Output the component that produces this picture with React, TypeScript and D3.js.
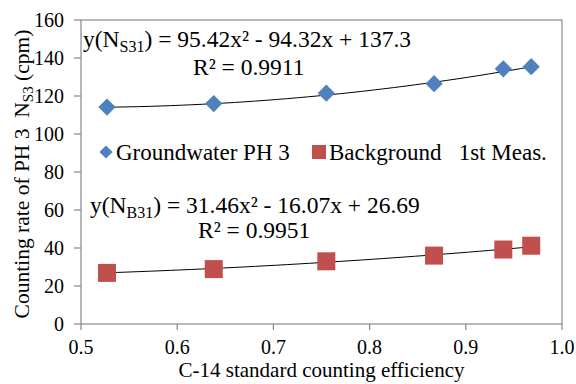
import * as d3 from 'd3';

const efficiency = [0.527, 0.638, 0.755, 0.867, 0.939, 0.968];
const groundwater = [114.2, 116.0, 121.5, 126.5, 134.3, 135.4];
const background = [26.9, 28.9, 33.0, 36.0, 39.2, 41.2];

// trendline coefficients [a, b, c] for a*x^2 + b*x + c, as printed on the chart
const groundwaterFit = [95.42, -94.32, 137.3];
const backgroundFit = [31.46, -16.07, 26.69];

const xTicks = [0.5, 0.6, 0.7, 0.8, 0.9, 1.0];
const yTicks = [0, 20, 40, 60, 80, 100, 120, 140, 160];

const W = 576;
const H = 384;
const margin = { top: 20, right: 14, bottom: 60, left: 81 };
const font = '"Liberation Serif", "Times New Roman", Times, serif';
const blue = '#4F81BD';
const red = '#C0504D';
const axisColor = '#898989';

export default function App() {
  const innerW = W - margin.left - margin.right;
  const innerH = H - margin.top - margin.bottom;

  const x = d3.scaleLinear().domain([0.5, 1.0]).range([0, innerW]);
  const y = d3.scaleLinear().domain([0, 160]).range([innerH, 0]);

  const fitLine = (coef: number[]) => {
    const [x0, x1] = d3.extent(efficiency) as [number, number];
    const pts = d3.range(0, 41).map((i) => {
      const xv = x0 + ((x1 - x0) * i) / 40;
      return [xv, coef[0] * xv * xv + coef[1] * xv + coef[2]] as [number, number];
    });
    return d3
      .line<[number, number]>()
      .x((d) => x(d[0]))
      .y((d) => y(d[1]))(pts) ?? '';
  };

  const diamond = d3.symbol().type(d3.symbolDiamond2).size(190)() ?? '';
  const txt = { fontFamily: font, fill: '#000' };

  return (
    <div style={{ position: 'absolute', left: 0, top: 0 }}>
      <svg width={W} height={H} style={{ display: 'block', background: '#fff', fontFamily: font }}>
        <g transform={`translate(${margin.left},${margin.top})`}>
          {/* plot frame */}
          <rect x={0} y={0} width={innerW} height={innerH} fill="none" stroke={axisColor} strokeWidth={1.2} />

          {/* y axis ticks */}
          {yTicks.map((t) => (
            <g key={'y' + t} transform={`translate(0,${y(t)})`}>
              <line x1={-7} x2={0} stroke={axisColor} strokeWidth={1.2} />
              <text x={-17} dy="0.34em" textAnchor="end" fontSize={20} {...txt}>
                {t}
              </text>
            </g>
          ))}

          {/* x axis ticks */}
          {xTicks.map((t) => (
            <g key={'x' + t} transform={`translate(${x(t)},${innerH})`}>
              <line y1={0} y2={6} stroke={axisColor} strokeWidth={1.2} />
              <text y={30} textAnchor="middle" fontSize={20} {...txt}>
                {t.toFixed(1)}
              </text>
            </g>
          ))}

          {/* trendlines */}
          <path d={fitLine(groundwaterFit)} fill="none" stroke="#000" strokeWidth={1} />
          <path d={fitLine(backgroundFit)} fill="none" stroke="#000" strokeWidth={1} />

          {/* markers */}
          {efficiency.map((e, i) => (
            <path key={'g' + i} d={diamond} transform={`translate(${x(e)},${y(groundwater[i])})`} fill={blue} />
          ))}
          {efficiency.map((e, i) => (
            <rect key={'b' + i} x={x(e) - 9} y={y(background[i]) - 9} width={18} height={18} fill={red} />
          ))}

          {/* equations */}
          <text x={2} y={27} fontSize={23.5} {...txt}>
            y(N<tspan fontSize={16} dy={5}>S31</tspan>
            <tspan dy={-5}>) = 95.42x² - 94.32x + 137.3</tspan>
          </text>
          <text x={112} y={55} fontSize={23.5} {...txt}>
            R² = 0.9911
          </text>
          <text x={9} y={193} fontSize={23.5} {...txt}>
            y(N<tspan fontSize={16} dy={5}>B31</tspan>
            <tspan dy={-5}>) = 31.46x² - 16.07x + 26.69</tspan>
          </text>
          <text x={117} y={218} fontSize={23.5} {...txt}>
            R² = 0.9951
          </text>

          {/* legend */}
          <path d={d3.symbol().type(d3.symbolDiamond2).size(110)() ?? ''} transform="translate(25,132)" fill={blue} />
          <text x={35} y={140} fontSize={23} {...txt}>
            Groundwater PH 3
          </text>
          <rect x={231} y={125} width={14} height={14} fill={red} />
          <text x={248} y={140} fontSize={23} {...txt} style={{ whiteSpace: 'pre' }}>
            {'Background   1st Meas.'}
          </text>
        </g>

        {/* axis titles */}
        <text x={margin.left + innerW / 2} y={377} textAnchor="middle" fontSize={21} {...txt}>
          C-14 standard counting efficiency
        </text>
        <text
          transform={`translate(29,${margin.top + innerH / 2 + 2}) rotate(-90)`}
          textAnchor="middle"
          fontSize={21.5}
          {...txt}
          style={{ whiteSpace: 'pre' }}
        >
          {'Counting rate of PH 3  N'}
          <tspan fontSize={15} dy={4}>S3</tspan>
          <tspan dy={-4}>{' (cpm)'}</tspan>
        </text>
      </svg>
    </div>
  );
}
